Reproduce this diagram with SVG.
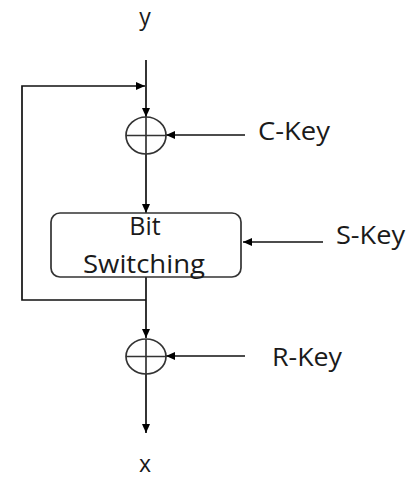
<svg xmlns="http://www.w3.org/2000/svg" width="416" height="479" viewBox="0 0 416 479">
<defs>
<marker id="ah" markerWidth="10" markerHeight="8" refX="9" refY="4" orient="auto" markerUnits="userSpaceOnUse">
<path d="M0,0 L9,4 L0,8 Z" fill="#000"/>
</marker>
<style>
.t{font-family:"Open Sans","Noto Sans",sans-serif;font-size:25px;fill:#1a1a1a}
.s{font-size:23px}
.ln{fill:none;stroke:#111;stroke-width:1.7}
.ar{fill:none;stroke:#111;stroke-width:1.7;marker-end:url(#ah)}
.xor{fill:none;stroke:#333;stroke-width:1.7}
</style>
</defs>
<rect width="416" height="479" fill="#fff"/>
<g id="connectors">
<line class="ar" x1="146" y1="60" x2="146" y2="117"/>
<polyline class="ar" points="146,300 22,300 22,86 145,86"/>
<line class="ar" x1="245" y1="135" x2="166" y2="135"/>
<line class="ar" x1="146" y1="154" x2="146" y2="213"/>
<line class="ar" x1="146" y1="277" x2="146" y2="338"/>
<line class="ar" x1="323" y1="242" x2="243" y2="242"/>
<line class="ar" x1="245" y1="356" x2="166" y2="356"/>
<line class="ar" x1="146" y1="374" x2="146" y2="433"/>
</g>
<g id="in-y"><text class="t s" x="145" y="25" text-anchor="middle">y</text></g>
<g id="xor1">
<ellipse class="xor" cx="146" cy="135.5" rx="20" ry="18.5"/>
<line class="xor" x1="126" y1="135.5" x2="166" y2="135.5"/>
<line class="xor" x1="146" y1="117" x2="146" y2="154"/>
</g>
<g id="ckey"><text class="t" x="258" y="140" textLength="72" lengthAdjust="spacingAndGlyphs">C-Key</text></g>
<g id="bitswitch">
<rect x="51" y="213" width="190" height="64" rx="9" fill="#fff" stroke="#333" stroke-width="1.7"/>
<text class="t" x="145" y="235" text-anchor="middle">Bit</text>
<text class="t" x="83" y="273" textLength="122" lengthAdjust="spacingAndGlyphs">Switching</text>
</g>
<g id="skey"><text class="t" x="336" y="244" textLength="69" lengthAdjust="spacingAndGlyphs">S-Key</text></g>
<g id="xor2">
<ellipse class="xor" cx="146" cy="356.5" rx="20" ry="17.5"/>
<line class="xor" x1="126" y1="356.5" x2="166" y2="356.5"/>
<line class="xor" x1="146" y1="339" x2="146" y2="374"/>
</g>
<g id="rkey"><text class="t" x="272" y="366" textLength="70" lengthAdjust="spacingAndGlyphs">R-Key</text></g>
<g id="out-x"><text class="t s" x="145" y="472" text-anchor="middle">x</text></g>
</svg>
